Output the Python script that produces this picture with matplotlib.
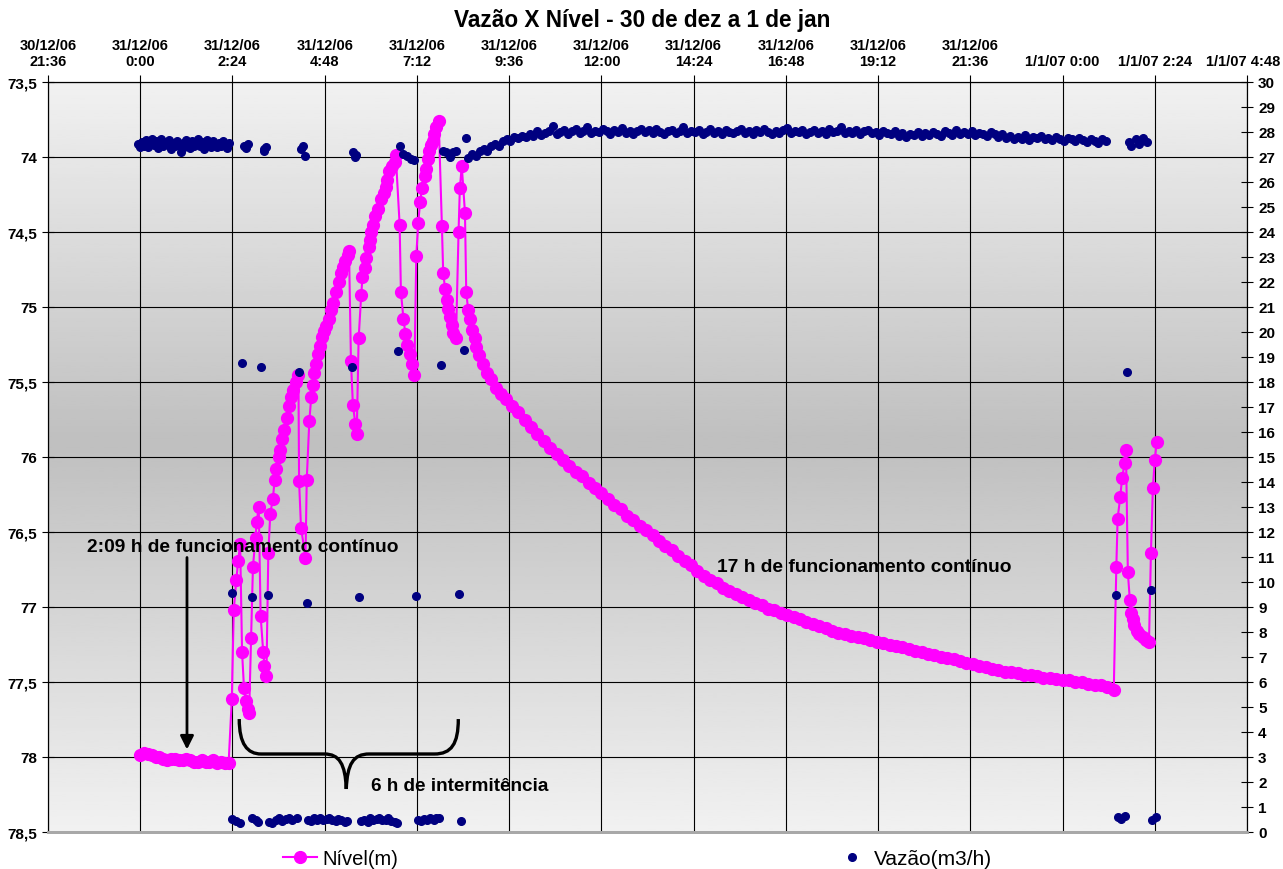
import numpy as np
import matplotlib
matplotlib.use("Agg")
import matplotlib.pyplot as plt
from matplotlib.path import Path
from matplotlib.patches import PathPatch
from matplotlib.lines import Line2D
from matplotlib.transforms import ScaledTranslation

plt.rcParams['font.family'] = ['Liberation Sans', 'DejaVu Sans']

# time axis: minutes since 31/12/06 0:00
x_ticks = np.arange(-144, 1729, 144)
x_labels = ['30/12/06\n21:36', '31/12/06\n0:00', '31/12/06\n2:24', '31/12/06\n4:48',
            '31/12/06\n7:12', '31/12/06\n9:36', '31/12/06\n12:00', '31/12/06\n14:24',
            '31/12/06\n16:48', '31/12/06\n19:12', '31/12/06\n21:36',
            '1/1/07 0:00', '1/1/07 2:24', '1/1/07 4:48']
nivel_ticks = np.arange(73.5, 78.51, 0.5)
vazao_ticks = np.arange(0, 31, 1)

# ---- Nivel (m) ----
# pump running, level steady (every 6 min from 0:00)
niv_flat = [77.99, 77.97, 77.98, 77.99, 78.00, 78.00, 78.01, 78.02, 78.01, 78.01,
            78.02, 78.02, 78.01, 78.02, 78.03, 78.03, 78.02, 78.03, 78.03, 78.02,
            78.04, 78.03, 78.04, 78.04]
# intermittent period
niv_cyc_t = [143, 146, 150, 153, 156, 159, 162, 165, 168, 170, 173, 176, 180, 182, 185,
             188, 192, 194, 197, 200, 203, 207, 210, 212, 216, 219, 221, 225, 229, 233,
             236, 239, 243, 247, 248, 251, 258, 260, 264, 267, 269, 272, 275, 278, 281,
             284, 287, 290, 294, 298, 301, 306, 310, 313, 317, 320, 324, 326, 329, 332,
             336, 338, 341, 345, 347, 351, 353, 357, 359, 360, 363, 367, 371, 376, 380,
             383, 386, 389, 393, 397, 399, 405, 407, 411, 414, 417, 421, 424, 428, 431,
             434, 437, 440, 444, 446, 449, 451, 454, 457, 459, 462, 466, 471, 473, 476,
             479, 481, 484, 487, 489, 493, 497, 499, 502, 507, 509, 512, 515, 518, 522,
             525, 529, 535, 541, 548, 556, 563, 571]
niv_cyc = [77.61, 77.02, 76.82, 76.69, 76.58, 77.30, 77.54, 77.63, 77.68, 77.71, 77.21,
           76.73, 76.54, 76.43, 76.33, 77.06, 77.30, 77.39, 77.46, 76.64, 76.38, 76.28,
           76.15, 76.08, 76.00, 75.95, 75.88, 75.82, 75.74, 75.66, 75.60, 75.55, 75.50,
           75.45, 76.16, 76.47, 76.67, 76.15, 75.76, 75.60, 75.52, 75.44, 75.38, 75.31,
           75.26, 75.20, 75.16, 75.13, 75.08, 75.02, 74.97, 74.90, 74.83, 74.77, 74.73,
           74.69, 74.65, 74.63, 75.36, 75.65, 75.78, 75.85, 75.21, 74.92, 74.80, 74.74,
           74.67, 74.60, 74.55, 74.50, 74.45, 74.39, 74.35, 74.28, 74.24, 74.20, 74.15,
           74.09, 74.06, 74.03, 73.99, 74.45, 74.90, 75.08, 75.18, 75.25, 75.31, 75.38,
           75.45, 74.66, 74.44, 74.30, 74.21, 74.13, 74.08, 74.01, 73.96, 73.92, 73.89,
           73.85, 73.80, 73.76, 74.46, 74.77, 74.88, 74.95, 75.01, 75.07, 75.12, 75.17,
           75.21, 74.50, 74.21, 74.06, 74.37, 74.90, 75.02, 75.08, 75.15, 75.21, 75.27,
           75.32, 75.38, 75.44, 75.48, 75.54, 75.58, 75.61]
# 17 h continuous pumping (every 10 min from 9:40)
niv_decay = [75.66, 75.70, 75.75, 75.80, 75.85, 75.89, 75.94, 75.98, 76.02, 76.06,
             76.10, 76.13, 76.17, 76.21, 76.24, 76.28, 76.32, 76.35, 76.39, 76.42,
             76.46, 76.49, 76.52, 76.56, 76.59, 76.62, 76.66, 76.69, 76.72, 76.76,
             76.79, 76.82, 76.84, 76.87, 76.89, 76.91, 76.93, 76.95, 76.97, 76.99,
             77.01, 77.02, 77.04, 77.05, 77.07, 77.08, 77.10, 77.11, 77.13, 77.14,
             77.16, 77.17, 77.18, 77.19, 77.20, 77.21, 77.22, 77.23, 77.24, 77.25,
             77.26, 77.27, 77.28, 77.29, 77.30, 77.31, 77.32, 77.33, 77.34, 77.35,
             77.36, 77.37, 77.38, 77.39, 77.40, 77.41, 77.42, 77.43, 77.43, 77.44,
             77.45, 77.45, 77.46, 77.47, 77.47, 77.48, 77.49, 77.49, 77.50, 77.50,
             77.51, 77.52, 77.52, 77.53, 77.55]
niv_end_t = [1524, 1526, 1530, 1533, 1537, 1539, 1542, 1545, 1547, 1550, 1552, 1556,
             1560, 1565, 1571, 1575, 1578, 1581, 1584, 1587]
niv_end = [76.73, 76.41, 76.27, 76.14, 76.04, 75.95, 76.77, 76.95, 77.04, 77.08, 77.12,
           77.16, 77.18, 77.20, 77.22, 77.23, 76.64, 76.21, 76.02, 75.90]

# ---- Vazao (m3/h) ----
vz_on1 = [27.52, 27.38, 27.60, 27.45, 27.68, 27.40, 27.55, 27.72, 27.47, 27.62,
          27.35, 27.58, 27.70, 27.43, 27.61, 27.50, 27.66, 27.30, 27.55, 27.42,
          27.64, 27.48, 27.20, 27.57, 27.40, 27.69, 27.52, 27.36, 27.63, 27.45,
          27.58, 27.71, 27.44, 27.60, 27.33, 27.55, 27.66, 27.47, 27.40, 27.62,
          27.52, 27.38, 27.58, 27.45, 27.63, 27.50, 27.37, 27.55]
vz_mid_t = [143, 144, 149, 155, 159, 162, 165, 168, 174, 175, 180, 184, 189, 193, 194,
            196, 200, 201, 206, 212, 217, 222, 228, 233, 237, 244, 248, 251, 254, 258,
            260, 262, 267, 272, 276, 281, 286, 291, 295, 300, 305, 309, 314, 319, 323,
            330, 332, 336, 337, 341, 345, 350, 355, 359, 364, 369, 373, 378, 383, 387,
            392, 397, 401, 403, 406, 411, 417, 423, 428, 431, 434, 439, 443, 448, 453,
            458, 462, 467, 470, 472, 477, 483, 488, 493, 497, 501, 506, 509]
vz_mid = [9.55, 0.52, 0.45, 0.38, 18.75, 27.45, 27.35, 27.52, 9.39, 0.55, 0.50, 0.42,
          18.61, 27.23, 27.32, 27.39, 9.48, 0.42, 0.35, 0.48, 0.55, 0.45, 0.52, 0.58,
          0.50, 0.55, 18.40, 27.32, 27.45, 27.05, 9.16, 0.50, 0.45, 0.55, 0.50, 0.58,
          0.48, 0.52, 0.55, 0.50, 0.45, 0.52, 0.48, 0.40, 0.45, 18.61, 27.19, 26.99,
          27.08, 9.39, 0.45, 0.50, 0.42, 0.55, 0.50, 0.52, 0.58, 0.48, 0.50, 0.55,
          0.45, 0.42, 0.38, 19.25, 27.45, 27.12, 27.03, 26.92, 26.89, 9.43, 0.48, 0.45,
          0.52, 0.50, 0.55, 0.50, 0.58, 0.55, 18.68, 27.25, 27.19, 26.99, 27.19, 27.25,
          9.51, 0.45, 19.29, 27.75]
vz_on2 = [26.95, 27.10, 27.05, 27.25, 27.30, 27.22, 27.42, 27.50, 27.45, 27.62,
          27.70, 27.62, 27.80, 27.75, 27.85, 27.78, 27.92, 27.85, 28.02, 27.88,
          27.95, 28.05, 28.22, 27.92, 28.00, 28.08, 27.90, 28.02, 28.10, 27.95,
          28.05, 28.20, 27.95, 28.05, 27.98, 28.12, 28.02, 27.92, 28.08, 28.00,
          28.15, 27.95, 28.05, 27.90, 28.02, 28.10, 27.98, 28.06, 27.94, 28.12,
          28.00, 27.90, 28.04, 28.08, 27.96, 28.02, 28.18, 27.94, 28.05, 27.98,
          28.06, 27.92, 28.00, 28.10, 27.96, 28.04, 27.90, 28.08, 28.00, 27.95,
          28.05, 28.12, 27.95, 28.02, 27.90, 28.06, 27.98, 28.10, 28.00, 27.92,
          28.04, 27.96, 28.08, 28.15, 27.94, 28.02, 27.98, 28.06, 27.90, 28.00,
          28.08, 27.95, 28.03, 27.92, 28.10, 27.98, 28.04, 28.18, 27.95, 28.02,
          27.96, 28.06, 27.90, 28.02, 28.08, 27.94, 28.00, 27.88, 28.04, 27.96,
          27.90, 28.02, 27.85, 27.96, 27.80, 27.92, 27.86, 28.00, 27.84, 27.94,
          27.88, 28.00, 27.92, 27.85, 28.02, 27.95, 27.88, 28.06, 27.92, 27.98,
          27.90, 28.04, 27.86, 27.96, 27.92, 27.84, 27.98, 27.90, 27.80, 27.92,
          27.75, 27.85, 27.70, 27.80, 27.72, 27.86, 27.68, 27.78, 27.74, 27.82,
          27.70, 27.76, 27.66, 27.80, 27.72, 27.64, 27.76, 27.70, 27.62, 27.74,
          27.68, 27.60, 27.72, 27.65, 27.58, 27.70, 27.62]
vz_end_t = [1524, 1526, 1531, 1538, 1540, 1543, 1547, 1554, 1560, 1566, 1572, 1578,
            1580, 1586]
vz_end = [9.49, 0.59, 0.52, 0.63, 18.39, 27.60, 27.45, 27.70, 27.50, 27.75, 27.60,
          9.68, 0.49, 0.59]

t_nivel = np.concatenate([np.arange(0, 139, 6), niv_cyc_t,
                          np.arange(580, 1521, 10), niv_end_t])
nivel = np.concatenate([niv_flat, niv_cyc, niv_decay, niv_end])
t_vazao = np.concatenate([np.arange(-3, 139, 3), vz_mid_t,
                          np.arange(512, 1509, 6), vz_end_t])
vazao = np.concatenate([vz_on1, vz_mid, vz_on2, vz_end])

fig = plt.figure(figsize=(12.83, 8.70), dpi=100)
ax = fig.add_axes([48 / 1283, 1 - 833 / 870, 1199 / 1283, 750 / 870])

# grey gradient background of the plot area
frac = np.linspace(0, 1, 256)
shade = np.interp(frac, [0, 0.48, 1], [0.945, 0.75, 0.945])
ax.imshow(shade[:, None], extent=[0, 1, 0, 1], transform=ax.transAxes,
          aspect='auto', cmap='gray', vmin=0, vmax=1, zorder=0)

ax.plot(t_nivel, nivel, color='#FF00FF', lw=1.5, marker='o', ms=8.5,
        zorder=3, label='Nível(m)')
ax.set_xlim(-144, 1728)
ax.set_ylim(78.5, 73.5)
ax.set_xticks(x_ticks)
ax.set_xticklabels(x_labels)
ax.xaxis.tick_top()
ax.set_yticks(nivel_ticks)
ax.set_yticklabels([f'{v:g}'.replace('.', ',') for v in nivel_ticks])
ax.tick_params(axis='x', direction='out', length=5, pad=5, labelsize=10.5)
ax.tick_params(axis='y', direction='inout', length=8, pad=4, labelsize=11)
for lab in ax.get_xticklabels() + ax.get_yticklabels():
    lab.set_fontweight('bold')
ax.set_axisbelow(True)
ax.grid(True, color='black', lw=0.8)

# last date label touches the right edge: shift it 4 px to the left
last = ax.xaxis.get_major_ticks()[-1].label2
last.set_transform(last.get_transform() + ScaledTranslation(-4 / 100, 0, fig.dpi_scale_trans))

ax2 = ax.twinx()
ax2.plot(t_vazao, vazao, ls='none', marker='o', ms=5.5, color='#000080',
         zorder=4, label='Vazão(m3/h)')
ax2.set_ylim(0, 30)
ax2.set_yticks(vazao_ticks)
ax2.tick_params(axis='y', direction='inout', length=8, pad=4, labelsize=11)
for lab in ax2.get_yticklabels():
    lab.set_fontweight('bold')

for a in (ax, ax2):
    for s in ('top', 'left', 'right'):
        a.spines[s].set_color('black')
        a.spines[s].set_linewidth(0.8)
    a.spines['bottom'].set_color('#a8a8a8')
    a.spines['bottom'].set_linewidth(2)

# annotations
ax.text(-83, 76.6, '2:09 h de funcionamento contínuo', fontsize=13.8,
        fontweight='bold', va='center', ha='left', zorder=5)
ax.annotate('', xy=(73, 77.95), xytext=(73, 76.67),
            arrowprops=dict(arrowstyle='-|>', lw=2, color='black',
                            mutation_scale=20, shrinkA=0, shrinkB=0))
ax.text(901, 76.727, '17 h de funcionamento contínuo', fontsize=13.8,
        fontweight='bold', va='center', ha='left', zorder=5)
ax.text(361, 78.187, '6 h de intermitência', fontsize=13.6,
        fontweight='bold', va='center', ha='left', zorder=5)

brace = Path([(154.6, 77.747), (154.6, 77.913), (167.1, 77.98), (189.0, 77.98),
              (287.4, 77.98),
              (310.8, 77.98), (320.2, 78.047), (321.7, 78.213),
              (323.3, 78.047), (332.6, 77.98), (357.6, 77.98),
              (459.1, 77.98),
              (485.7, 77.98), (496.6, 77.913), (496.6, 77.747)],
             [Path.MOVETO, Path.CURVE4, Path.CURVE4, Path.CURVE4,
              Path.LINETO,
              Path.CURVE4, Path.CURVE4, Path.CURVE4,
              Path.CURVE4, Path.CURVE4, Path.CURVE4,
              Path.LINETO,
              Path.CURVE4, Path.CURVE4, Path.CURVE4])
ax.add_patch(PathPatch(brace, fill=False, lw=2.4, color='black', zorder=5))

fig.text(642 / 1283, 1 - 20 / 870, 'Vazão X Nível - 30 de dez a 1 de jan',
         ha='center', va='center', fontsize=16.3, fontweight='bold')

h1 = Line2D([], [], color='#FF00FF', lw=1.5, marker='o', ms=8.5)
h2 = Line2D([], [], color='#000080', ls='none', marker='o', ms=5.5)
leg1 = fig.legend([h1], ['Nível(m)'], loc='center left', frameon=False,
                  bbox_to_anchor=(283 / 1283, 1 - 860 / 870), fontsize=14.5,
                  handlelength=1.7, handletextpad=0.25, borderpad=0, borderaxespad=0)
leg2 = fig.legend([h2], ['Vazão(m3/h)'], loc='center left', frameon=False,
                  bbox_to_anchor=(843 / 1283, 1 - 860 / 870), fontsize=15,
                  handlelength=0.9, handletextpad=0.6, borderpad=0, borderaxespad=0)

fig.savefig('out.png', dpi=100)
